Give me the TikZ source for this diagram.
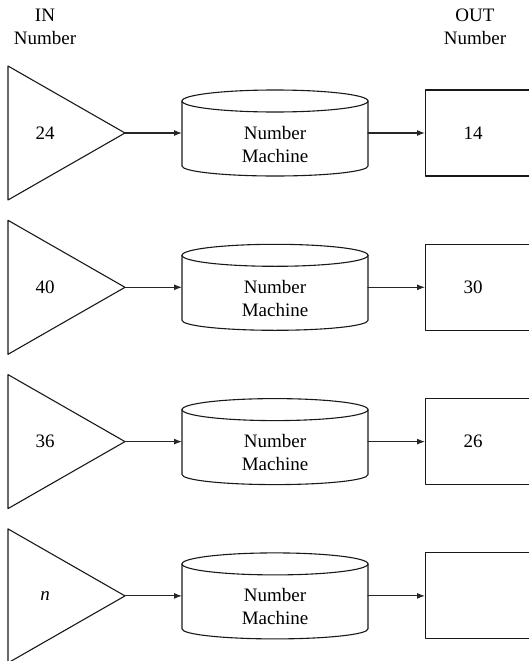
\documentclass[tikz,border=0pt]{standalone}
\usepackage{fontspec}
\setmainfont{Liberation Serif}
\usepackage{tikz}
\usetikzlibrary{arrows.meta}

\begin{document}
\begin{tikzpicture}[
  x=1pt,
  y=-1pt,
  line cap=round,
  line join=round,
  label/.style={font=\fontsize{19}{23}\selectfont,align=center,inner sep=0pt},
  outline/.style={draw=black!90,line width=1.1pt},
  outbox/.style={outline,minimum width=115pt,minimum height=86pt,anchor=west,inner sep=0pt},
  feed/.style={-{Latex[length=8pt,width=6pt]},draw=black!85,line width=1.1pt}
]
  \useasboundingbox (0,0) rectangle (529,661);
  \clip (0,0) rectangle (529,661);

  % Column headings
  \node[label] (inhead) at (45,26.5) {IN\\Number};
  \node[label] (outhead) at (475,26.5) {OUT\\Number};

  % One row per number: input triangle, machine, output box
  \foreach \i/\num/\res in {0/24/14, 1/40/30, 2/36/26, 3/\textit{n}/{}} {
    \pgfmathsetmacro{\cy}{133+154.3*\i}

    % Input triangle
    \draw[outline] (8,\cy-67) -- (125,\cy) -- (8,\cy+67) -- cycle;
    \coordinate (tip\i) at (125,\cy);
    \node[label] (numin\i) at (45,\cy) {\num};

    % Number machine drawn as a cylinder
    \draw[outline] (275,\cy-32) ellipse [x radius=93, y radius=11];
    \draw[outline] (182,\cy-32) -- (182,\cy+33)
      arc [start angle=180, end angle=0, x radius=93, y radius=10]
      -- (368,\cy-32);
    \coordinate (mleft\i) at (182,\cy);
    \coordinate (mright\i) at (368,\cy);
    \node[label] (machine\i) at (275,\cy+11) {Number\\Machine};

    % Output box, open to the right edge
    \node[outbox] (numout\i) at (425,\cy) {};
    \node[label] (result\i) at (473,\cy) {\res};

    \draw[feed] (tip\i) -- (mleft\i);
    \draw[feed] (mright\i) -- (numout\i.west);
  }

\end{tikzpicture}
\end{document}
